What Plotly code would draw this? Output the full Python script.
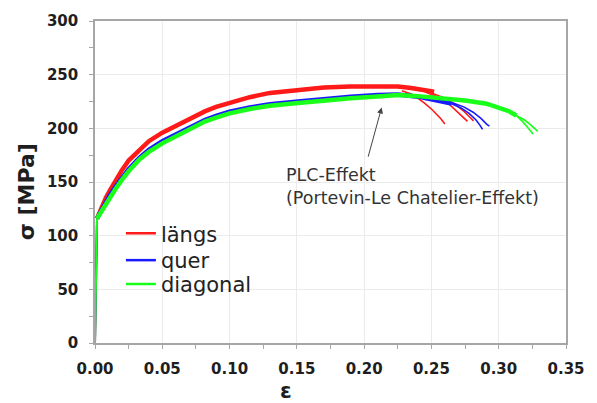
import plotly.graph_objects as go

# ---- data ----
eps_start = [0.0, 0.0008, 0.0015]
sig_start = [0.0, 60.0, 116.0]

# längs (red)
eps_laengs = [0.0015, 0.004, 0.008, 0.011, 0.015, 0.02, 0.025, 0.033, 0.04, 0.05, 0.058, 0.07,
              0.082, 0.09, 0.10, 0.115, 0.13, 0.151, 0.17, 0.19, 0.21, 0.225, 0.235, 0.245, 0.252]
sig_laengs = [116, 124, 135, 142, 151, 161, 170, 180, 188, 196, 201, 209,
              216, 220, 224, 229, 233, 236, 238, 239, 239, 239, 237.5, 235.5, 234]
eps_laengs_t1 = [0.228, 0.235, 0.240, 0.2444, 0.250, 0.254, 0.257, 0.260]
sig_laengs_t1 = [235, 232, 228, 224, 218, 213, 209, 204]
eps_laengs_t2 = [0.245, 0.255, 0.262, 0.2677, 0.272, 0.2768]
sig_laengs_t2 = [234, 229, 224, 217, 212, 206.5]
eps_laengs_t3 = [0.250, 0.260, 0.268, 0.274, 0.278, 0.2813]
sig_laengs_t3 = [233, 228, 222, 216, 211, 207]

# quer (blue)
eps_quer = [0.0015, 0.004, 0.008, 0.011, 0.015, 0.02, 0.025, 0.033, 0.04, 0.05, 0.058, 0.07,
            0.082, 0.09, 0.10, 0.115, 0.13, 0.151, 0.17, 0.19, 0.21, 0.225, 0.24, 0.255, 0.265]
sig_quer = [116, 122, 131, 137.5, 145, 154, 162, 172.5, 180, 188, 193, 201,
            208, 211.5, 215.5, 219.5, 222.5, 225, 227.5, 229.5, 231, 231.5, 229.5, 226, 223]
eps_quer_t1 = [0.265, 0.272, 0.278, 0.283, 0.286, 0.288]
sig_quer_t1 = [223, 219, 214, 208, 203, 199]
eps_quer_t2 = [0.265, 0.274, 0.281, 0.287, 0.291, 0.293]
sig_quer_t2 = [224, 220, 215, 209, 204, 202]

# diagonal (green)
eps_diag = [0.0015, 0.004, 0.008, 0.011, 0.015, 0.02, 0.025, 0.033, 0.04, 0.05, 0.058, 0.07,
            0.082, 0.09, 0.10, 0.115, 0.13, 0.151, 0.17, 0.19, 0.21, 0.225, 0.24, 0.259,
            0.275, 0.291, 0.30, 0.308, 0.313]
sig_diag = [116, 121, 130, 135.5, 143, 152, 160, 171, 178, 186, 191, 199,
            206.5, 210, 214, 218, 221, 223.5, 226, 228, 229.6, 231, 230, 228,
            226, 223, 219.5, 215.7, 212]
eps_diag_t1 = [0.313, 0.318, 0.322, 0.3255]
sig_diag_t1 = [212, 206, 200, 194.7]
eps_diag_t2 = [0.313, 0.319, 0.324, 0.329]
sig_diag_t2 = [212, 208, 203, 197.2]

series = [
    ("längs", "#ff1a1a", eps_laengs, sig_laengs,
     [(eps_laengs_t1, sig_laengs_t1), (eps_laengs_t2, sig_laengs_t2), (eps_laengs_t3, sig_laengs_t3)]),
    ("quer", "#1a1aff", eps_quer, sig_quer,
     [(eps_quer_t1, sig_quer_t1), (eps_quer_t2, sig_quer_t2)]),
    ("diagonal", "#1aff1a", eps_diag, sig_diag,
     [(eps_diag_t1, sig_diag_t1), (eps_diag_t2, sig_diag_t2)]),
]

x_ticks = [0.0, 0.05, 0.10, 0.15, 0.20, 0.25, 0.30, 0.35]
y_ticks = [0, 50, 100, 150, 200, 250, 300]

FONT = "DejaVu Sans"
TXT = "#1e1e1e"

fig = go.Figure()
for name, color, ex, sy, tails in series:
    fig.add_trace(go.Scatter(x=eps_start, y=sig_start, mode="lines",
                             line=dict(color=color, width=2), showlegend=False, hoverinfo="skip"))
    fig.add_trace(go.Scatter(x=ex, y=sy, mode="lines",
                             line=dict(color=color, width=4.5), showlegend=False))
    for tx, ty in tails:
        fig.add_trace(go.Scatter(x=tx, y=ty, mode="lines",
                                 line=dict(color=color, width=1.6), showlegend=False))

legend_ids = ["legend", "legend2", "legend3"]
for (name, color, ex, sy, tails), lid in zip(series, legend_ids):
    fig.add_trace(go.Scatter(x=[None], y=[None], mode="lines", name=name, legend=lid,
                             line=dict(color=color, width=2.5)))

axis_common = dict(
    showline=True, linecolor="#a6a6a6", linewidth=1.5, mirror=True,
    showgrid=True, gridcolor="#ebebeb", gridwidth=1,
    ticks="outside", ticklen=4, tickcolor="#a6a6a6", tickwidth=1,
    zeroline=False,
    tickfont=dict(family=FONT, size=15, color=TXT, weight="bold"),
)

fig.update_xaxes(range=[0, 0.35], tickvals=x_ticks, tickformat=".2f",
                 minor=dict(ticks="outside", dtick=0.025, ticklen=4, tickcolor="#a6a6a6", showgrid=False),
                 ticklabelstandoff=7, **axis_common)
fig.update_yaxes(range=[0, 300], tickvals=y_ticks,
                 minor=dict(ticks="outside", dtick=25, ticklen=4, tickcolor="#a6a6a6", showgrid=False),
                 ticklabelstandoff=8, **axis_common)

fig.add_annotation(text="σ [MPa]", textangle=-90, xref="paper", yref="paper",
                   x=-0.1438, y=0.469, xanchor="center", yanchor="middle", showarrow=False,
                   font=dict(family=FONT, size=22, color=TXT, weight="bold"))
fig.add_annotation(text="ε", xref="paper", yref="paper",
                   x=0.406, y=-0.148, xanchor="center", yanchor="middle", showarrow=False,
                   font=dict(family=FONT, size=21, color=TXT, weight="bold"))

fig.add_annotation(text="PLC-Effekt<br>(Portevin-Le Chatelier-Effekt)", xref="x", yref="y",
                   x=0.1405, y=146, xanchor="left", yanchor="middle", align="left", showarrow=False,
                   font=dict(family=FONT, size=17.5, color="#333333"))
fig.add_annotation(x=0.213, y=219.4, ax=0.2027, ay=172.2, xref="x", yref="y", axref="x", ayref="y",
                   text="", showarrow=True, arrowhead=2, arrowsize=1.2, arrowwidth=1, arrowcolor="#444444")

leg_common = dict(xanchor="left", yanchor="middle", bgcolor="rgba(0,0,0,0)",
                  font=dict(family=FONT, size=21, color="#222222"), itemwidth=30)
row_y = [0.3395, 0.2562, 0.1821]
fig.update_layout(
    width=597, height=403,
    margin=dict(l=95, r=27, t=19, b=60),
    plot_bgcolor="white", paper_bgcolor="white",
    legend=dict(x=0.055, y=row_y[0], **leg_common),
    legend2=dict(x=0.055, y=row_y[1], **leg_common),
    legend3=dict(x=0.055, y=row_y[2], **leg_common),
    showlegend=True,
)

fig.write_html("out.html")
